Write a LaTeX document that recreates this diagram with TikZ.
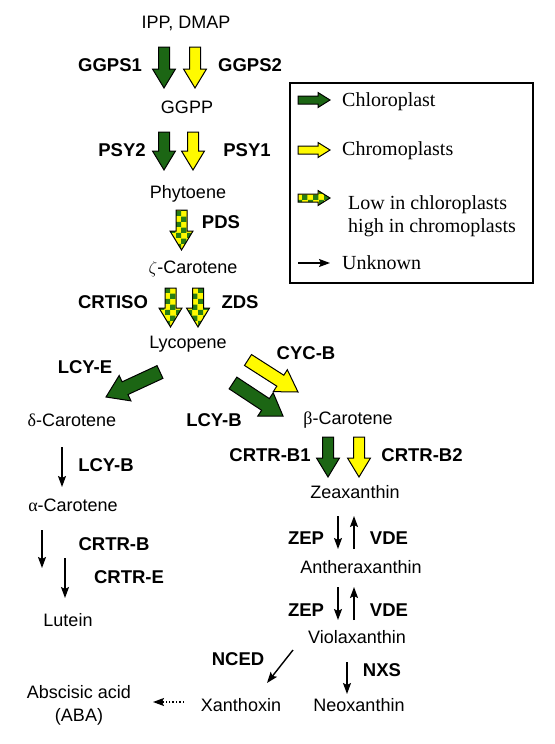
\documentclass[tikz,border=0pt]{standalone}
\usepackage{fontspec}
\setmainfont{Liberation Sans}
\newfontfamily\keyfont{Liberation Serif}
\usetikzlibrary{arrows.meta,calc,patterns}

\pgfdeclarepatternformonly{checks}{\pgfqpoint{0pt}{0pt}}{\pgfqpoint{11pt}{11pt}}{\pgfqpoint{11pt}{11pt}}{%
  \pgfpathrectangle{\pgfqpoint{0pt}{0pt}}{\pgfqpoint{5.5pt}{5.5pt}}%
  \pgfpathrectangle{\pgfqpoint{5.5pt}{5.5pt}}{\pgfqpoint{5.5pt}{5.5pt}}%
  \pgfusepath{fill}}

\definecolor{leaf}{RGB}{28,102,20}
\definecolor{chromo}{RGB}{255,250,0}
\definecolor{chk}{RGB}{40,125,20}

\tikzset{
  blkshaft/.store in=\bsw, blkhead/.store in=\bhw, blkneck/.store in=\bhl,
  blkshaft=5.5pt, blkhead=11.5pt, blkneck=19pt,
  fat/.style={draw=black, line width=1pt, line join=miter, to path={
    ($(\tikztostart)!\bsw!90:(\tikztotarget)$)
    -- ($($(\tikztotarget)!\bhl!(\tikztostart)$)!\bsw!90:(\tikztotarget)$)
    -- ($($(\tikztotarget)!\bhl!(\tikztostart)$)!\bhw!90:(\tikztotarget)$)
    -- (\tikztotarget)
    -- ($($(\tikztotarget)!\bhl!(\tikztostart)$)!\bhw!-90:(\tikztotarget)$)
    -- ($($(\tikztotarget)!\bhl!(\tikztostart)$)!\bsw!-90:(\tikztotarget)$)
    -- ($(\tikztostart)!\bsw!-90:(\tikztotarget)$) -- cycle}},
  chl/.style={fat, fill=leaf},
  chr/.style={fat, fill=chromo},
  mix/.style={fat, preaction={fill=chromo}, pattern=checks, pattern color=chk},
  wide/.style={blkshaft=7pt, blkhead=14pt, blkneck=21pt},
  small/.style={blkshaft=4pt, blkhead=7.5pt, blkneck=12pt}
}

\begin{document}
\begin{tikzpicture}[x=1pt,y=-1pt,>={Stealth[length=11pt,width=8pt,inset=2pt]},
  every node/.style={font=\fontsize{18}{23}\selectfont, inner sep=0pt},
  cmpd/.style={text height=13pt, text depth=0pt},
  enz/.style={cmpd, font=\fontsize{18.5}{23}\selectfont\bfseries},
  key/.style={anchor=west, text height=13.5pt, text depth=0pt, font=\fontsize{20}{23}\selectfont\keyfont},
  thin/.style={->, line width=1.4pt}]
\useasboundingbox (0,0) rectangle (554,744);

% compounds
\node[cmpd] (ipp) at (186,22) {IPP, DMAP};
\node[cmpd] (ggpp) at (187,107) {GGPP};
\node[cmpd] (phyt) at (188,192) {Phytoene};
\node[cmpd] (zeta) at (193,267) {$\zeta$-Carotene};
\node[cmpd] (lyc) at (188,342) {Lycopene};
\node[cmpd] (delta) at (72,420) {{\keyfont δ}-Carotene};
\node[cmpd] (beta) at (348,418) {{\keyfont β}-Carotene};
\node[cmpd] (alpha) at (73,505) {{\keyfont α}-Carotene};
\node[cmpd] (lut) at (68,620) {Lutein};
\node[cmpd] (zea) at (355,492) {Zeaxanthin};
\node[cmpd] (anth) at (361,567) {Antheraxanthin};
\node[cmpd] (viola) at (357,637) {Violaxanthin};
\node[cmpd] (xan) at (241,705) {Xanthoxin};
\node[cmpd] (neo) at (359,705) {Neoxanthin};
\node[anchor=north, align=center] (aba) at (79,685.5) {Abscisic acid\\(ABA)};

% enzymes
\node[enz] (ggps1) at (110,65) {GGPS1};
\node[enz] (ggps2) at (250,65) {GGPS2};
\node[enz] (psy2) at (122,150) {PSY2};
\node[enz] (psy1) at (247,150) {PSY1};
\node[enz] (pds) at (221,222) {PDS};
\node[enz] (crtiso) at (113,302) {CRTISO};
\node[enz] (zds) at (240,302) {ZDS};
\node[enz] (lcye) at (85,367) {LCY-E};
\node[enz] (cycb) at (306,353) {CYC-B};
\node[enz] (lcyb) at (214,420) {LCY-B};
\node[enz] (crtrb1) at (270,455) {CRTR-B1};
\node[enz] (crtrb2) at (422,455) {CRTR-B2};
\node[enz] (lcyb2) at (106,465) {LCY-B};
\node[enz] (crtrb) at (114,544) {CRTR-B};
\node[enz] (crtre) at (129,577) {CRTR-E};
\node[enz] (zep1) at (306,538) {ZEP};
\node[enz] (vde1) at (389,538) {VDE};
\node[enz] (zep2) at (306,610) {ZEP};
\node[enz] (vde2) at (389,610) {VDE};
\node[enz] (nced) at (238,659) {NCED};
\node[enz] (nxs) at (382,670) {NXS};

% arrow ends
\coordinate (gg1) at (164,47); \coordinate (gg1e) at (164,88);
\coordinate (gg2) at (195,47); \coordinate (gg2e) at (195,88);
\coordinate (ps2) at (164,132); \coordinate (ps2e) at (164,170);
\coordinate (ps1) at (193,132); \coordinate (ps1e) at (193,170);
\coordinate (pd) at (181.5,210); \coordinate (pde) at (181.5,250);
\coordinate (ci) at (170.5,288); \coordinate (cie) at (170.5,327);
\coordinate (zd) at (198,288); \coordinate (zde) at (198,327);
\coordinate (le) at (160,372); \coordinate (lee) at (106,397);
\coordinate (cy) at (248,360); \coordinate (cye) at (298,392);
\coordinate (lb) at (233,383); \coordinate (lbe) at (283,416);
\coordinate (cb1) at (328,437); \coordinate (cb1e) at (328,477);
\coordinate (cb2) at (359,437); \coordinate (cb2e) at (359,477);

% pathway arrows
\draw[chl] (gg1) to (gg1e);
\draw[chr] (gg2) to (gg2e);
\draw[chl] (ps2) to (ps2e);
\draw[chr] (ps1) to (ps1e);
\draw[mix] (pd) to (pde);
\draw[mix] (ci) to (cie);
\draw[mix] (zd) to (zde);
\draw[chl, wide] (le) to (lee);
\draw[chr, wide, blkshaft=6.5pt, blkhead=13pt] (cy) to (cye);
\draw[chl, wide] (lb) to (lbe);
\draw[chl] (cb1) to (cb1e);
\draw[chr] (cb2) to (cb2e);

\coordinate (a1) at (62,447); \coordinate (a1e) at (62,487);
\coordinate (a2) at (42,530); \coordinate (a2e) at (42,568);
\coordinate (a3) at (65,558); \coordinate (a3e) at (65,598);
\coordinate (z1) at (338,516); \coordinate (z1e) at (338,549);
\coordinate (v1) at (354,549); \coordinate (v1e) at (354,516);
\coordinate (z2) at (338,587); \coordinate (z2e) at (338,620);
\coordinate (v2) at (354,620); \coordinate (v2e) at (354,587);
\coordinate (nc) at (293,650); \coordinate (nce) at (267,683);
\coordinate (nx) at (347,662); \coordinate (nxe) at (347,694);
\coordinate (ab) at (184,702); \coordinate (abe) at (153,702);

\draw[thin] (a1) -- (a1e);
\draw[thin] (a2) -- (a2e);
\draw[thin] (a3) -- (a3e);
\draw[thin] (z1) -- (z1e);
\draw[thin] (v1) -- (v1e);
\draw[thin] (z2) -- (z2e);
\draw[thin] (v2) -- (v2e);
\draw[thin] (nc) -- (nce);
\draw[thin] (nx) -- (nxe);
\draw[thin, dotted] (ab) -- (abe);

% legend
\draw[line width=2pt] (290,83) rectangle (533,283);
\coordinate (k1) at (298,100); \coordinate (k1e) at (330,100);
\coordinate (k2) at (298,150); \coordinate (k2e) at (330,150);
\coordinate (k3) at (298,198); \coordinate (k3e) at (330,198);
\coordinate (k4) at (298,263); \coordinate (k4e) at (330,263);
\draw[chl, small] (k1) to (k1e);
\draw[chr, small] (k2) to (k2e);
\draw[mix, small] (k3) to (k3e);
\draw[thin] (k4) -- (k4e);
\node[key] (kchl) at (342,100) {Chloroplast};
\node[key] (kchr) at (342,149) {Chromoplasts};
\node[key, anchor=north west, text height=, align=left] (kmix) at (348,195) {Low in chloroplasts\\high in chromoplasts};
\node[key] (kunk) at (342,263) {Unknown};
\end{tikzpicture}
\end{document}
